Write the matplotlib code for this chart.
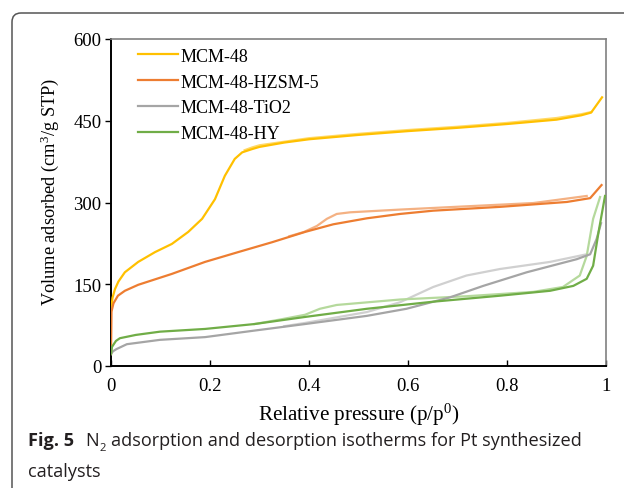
#!/usr/bin/env python3
"""N2 adsorption / desorption isotherms for the Pt catalysts"""
import matplotlib
matplotlib.use("Agg")
import matplotlib.pyplot as plt
from matplotlib.patches import FancyBboxPatch
from matplotlib.transforms import IdentityTransform

# series names in legend order
names = ["MCM-48", "MCM-48-HZSM-5", "MCM-48-TiO2", "MCM-48-HY"]

# MCM-48
mcm_ads_x = [0, 0.003, 0.008, 0.015, 0.028, 0.055, 0.089, 0.123, 0.156, 0.184,
             0.21, 0.23, 0.25, 0.265, 0.285, 0.3, 0.35, 0.4, 0.5, 0.6, 0.7,
             0.8, 0.9, 0.95, 0.97, 0.992]
mcm_ads_y = [100, 125, 141, 155, 172, 191, 209, 224, 246, 270,
             306, 349, 380, 392, 398, 402, 410, 416, 424, 431, 437,
             444, 452, 460, 465, 493]
mcm_des_x = [0.27, 0.285, 0.3, 0.4, 0.5, 0.6, 0.7, 0.8, 0.9, 0.95, 0.97]
mcm_des_y = [396, 401, 405, 418, 426, 433, 439, 446, 455, 462, 466]

# MCM-48-HZSM-5
hz_ads_x = [0, 0.001, 0.005, 0.014, 0.028, 0.055, 0.123, 0.19, 0.257, 0.325,
            0.392, 0.449, 0.517, 0.584, 0.651, 0.786, 0.921, 0.968, 0.991]
hz_ads_y = [22, 100, 115, 129, 138, 149, 169, 191, 209, 227,
            246, 260, 271, 279, 285, 292, 301, 308, 332]
hz_des_x = [0.36, 0.39, 0.416, 0.436, 0.456, 0.483, 0.584, 0.718, 0.853, 0.961]
hz_des_y = [238, 246, 257, 270, 279, 282, 287, 293, 299, 312]

# MCM-48-TiO2
ti_ads_x = [0, 0.004, 0.011, 0.032, 0.099, 0.19, 0.29, 0.392, 0.517, 0.597,
            0.685, 0.752, 0.84, 0.941, 0.968, 0.981, 0.99]
ti_ads_y = [22, 27, 31, 40, 48, 53, 65, 77, 92, 105,
            126, 147, 172, 196, 205, 233, 262]
ti_des_x = [0.35, 0.392, 0.517, 0.584, 0.651, 0.718, 0.786, 0.887, 0.961]
ti_des_y = [73, 79, 99, 117, 145, 166, 178, 191, 205]

# MCM-48-HY
hy_ads_x = [0, 0.002, 0.01, 0.018, 0.05, 0.099, 0.19, 0.29, 0.392, 0.517,
            0.651, 0.786, 0.887, 0.934, 0.961, 0.974, 0.985, 0.998]
hy_ads_y = [22, 35, 46, 51, 57, 63, 68, 77, 90, 105,
            118, 129, 138, 147, 160, 184, 246, 312]
hy_des_x = [0.29, 0.34, 0.392, 0.422, 0.456, 0.584, 0.718, 0.853, 0.913,
            0.947, 0.961, 0.974, 0.988]
hy_des_y = [77, 85, 94, 105, 112, 122, 128, 136, 145, 166, 202, 270, 310]

x_ticks = [0, 0.2, 0.4, 0.6, 0.8, 1]
x_labels = ["0", "0.2", "0.4", "0.6", "0.8", "1"]
y_ticks = [0, 150, 300, 450, 600]

colors = ["#FFC000", "#ED7D31", "#A5A5A5", "#70AD47"]
light = ["#FFD966", "#F4B183", "#D0D0D0", "#B5D99C"]

plt.rcParams["font.family"] = ["Liberation Serif"]
plt.rcParams["mathtext.fontset"] = "custom"
plt.rcParams["mathtext.rm"] = "Liberation Serif"
plt.rcParams["mathtext.it"] = "Liberation Serif:italic"

fig = plt.figure(figsize=(6.24, 4.89), dpi=100)
ax = fig.add_axes([111 / 624, 1 - 367 / 489, 495 / 624, 327 / 489])

ads = [(mcm_ads_x, mcm_ads_y), (hz_ads_x, hz_ads_y),
       (ti_ads_x, ti_ads_y), (hy_ads_x, hy_ads_y)]
des = [(mcm_des_x, mcm_des_y), (hz_des_x, hz_des_y),
       (ti_des_x, ti_des_y), (hy_des_x, hy_des_y)]

for i in range(4):
    ax.plot(des[i][0], des[i][1], color=light[i], lw=1.6, zorder=2)
for i in range(4):
    ax.plot(ads[i][0], ads[i][1], color=colors[i], lw=1.6, label=names[i],
            zorder=3)

ax.set_xlim(0, 1)
ax.set_ylim(0, 600)
ax.set_xticks(x_ticks)
ax.set_xticklabels(x_labels)
ax.set_yticks(y_ticks)
ax.tick_params(axis="x", direction="in", length=4, width=1, labelsize=13.5,
               pad=8)
ax.tick_params(axis="y", direction="out", length=4, width=1, labelsize=13.5,
               pad=3)
for s in ["left", "bottom"]:
    ax.spines[s].set_color("black")
    ax.spines[s].set_linewidth(1.4)
for s in ["top", "right"]:
    ax.spines[s].set_color("#808080")
    ax.spines[s].set_linewidth(1.2)

ax.set_xlabel("Relative pressure (p/p$^0$)", fontsize=15.2, labelpad=5)
ax.set_ylabel("Volume adsorbed (cm$^3$/g STP)", fontsize=13.2)
ax.yaxis.set_label_coords(-0.101, 0.537)

ax.legend(loc="upper left", bbox_to_anchor=(0.03, 1.012), frameon=False,
          fontsize=13, handlelength=2.2, handletextpad=0.15,
          labelspacing=0.49, borderaxespad=0.3)

# rounded frame around figure + caption (clipped on right/bottom)
box = FancyBboxPatch((12, -30), 660, 489 - 14 + 30,
                     boxstyle="round,pad=0,rounding_size=9",
                     transform=IdentityTransform(), fill=False,
                     edgecolor="#555555", lw=1.1)
fig.patches.append(box)

cap_font = "Open Sans"
cap_size = 13.1
y1 = (489 - 446) / 489
y2 = (489 - 477) / 489
fig.canvas.draw()
r = fig.canvas.get_renderer()
t1 = fig.text(28 / 624, y1, "Fig. 5", fontsize=cap_size, family=cap_font,
              fontweight="bold", color="#231F20")
bb = t1.get_window_extent(r)
t2 = fig.text((bb.x1 + 11) / 624, y1, "N", fontsize=cap_size,
              family=cap_font, color="#231F20")
bb = t2.get_window_extent(r)
t3 = fig.text((bb.x1 + 0.5) / 624, y1 - 5 / 489, "2", fontsize=cap_size * 0.62,
              family=cap_font, color="#231F20")
bb = t3.get_window_extent(r)
fig.text((bb.x1 + 5) / 624, y1,
         "adsorption and desorption isotherms for Pt synthesized",
         fontsize=cap_size, family=cap_font, color="#231F20")
fig.text(28 / 624, y2, "catalysts", fontsize=cap_size, family=cap_font,
         color="#231F20")

fig.savefig("out.png", dpi=100)
